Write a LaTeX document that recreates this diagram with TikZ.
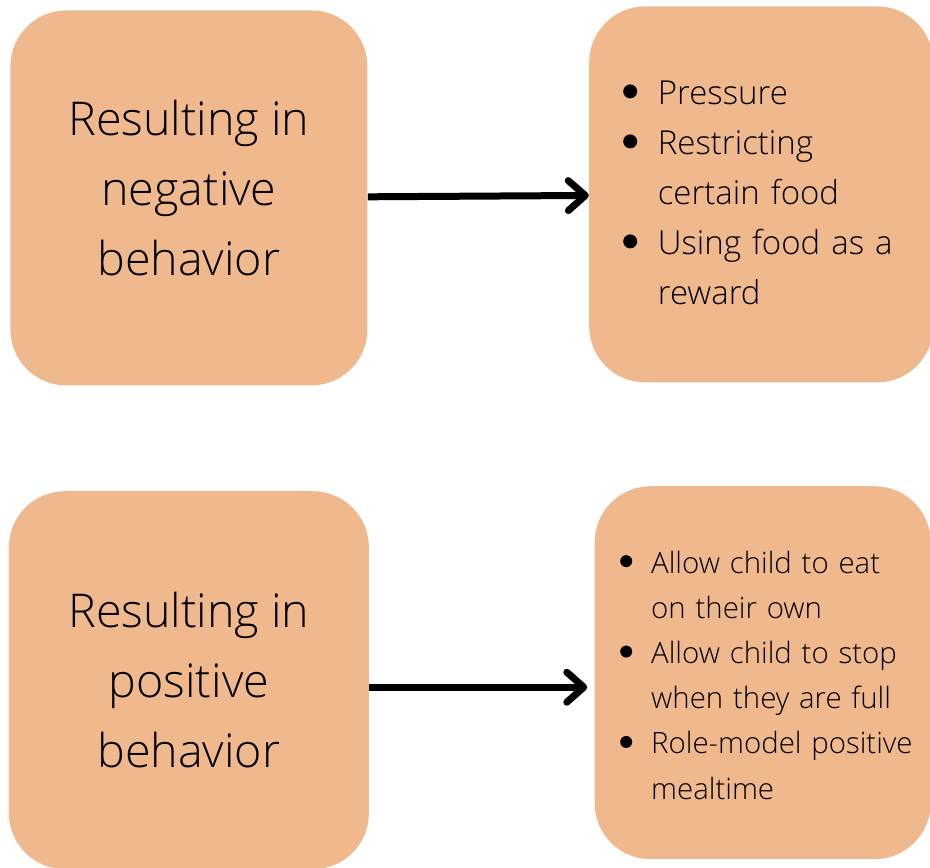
\documentclass[tikz,border=0pt]{standalone}
\usepackage{fontspec}
\IfFontExistsTF{Open Sans Light}{\setmainfont{Open Sans Light}}{\setmainfont{Open Sans}}
\usetikzlibrary{positioning, arrows.meta}
\definecolor{peach}{RGB}{240,185,141}
% filled round bullet, #1 = radius, #2 = height of its centre
\newcommand\listdot[2]{\tikz[baseline=0pt]\fill[black] (0pt,#2) circle (#1);}

\begin{document}
\begin{tikzpicture}[
    x=0.5pt, y=-0.5pt,
    box/.style={rectangle, fill=peach, rounded corners=28pt, inner sep=0pt, align=center},
    bigtxt/.style={font=\fontsize{23.3}{35}\selectfont},
    toplist/.style={font=\fontsize{16.5}{25}\selectfont, text width=138pt, align=left},
    botlist/.style={font=\fontsize{14.7}{22.6}\selectfont, text width=142.5pt, align=left},
    arrow/.style={line width=3.5pt, -{Straight Barb[length=8.5pt, width=15pt, round]}}
]
\useasboundingbox (0,0) rectangle (930,867);
% Boxes
\node[box, bigtxt, anchor=north west, minimum width=178.5pt, minimum height=187.5pt] (neg) at (10,10) {Resulting in\\negative\\behavior\rule[-10pt]{0pt}{10pt}};
\node[box, toplist, right=110.5pt of neg, yshift=1.75pt, minimum width=172pt, minimum height=188pt] (negList) {\noindent
\begin{tabular}{@{}c@{\hspace{10.3pt}}l@{}}
\listdot{3.5pt}{6.5pt} & Pressure\\
\listdot{3.5pt}{6.5pt} & Restricting\\
 & certain food\\
\listdot{3.5pt}{6.5pt} & Using food as a\\
 & reward
\end{tabular}};
\node[box, bigtxt, below=52.5pt of neg, minimum width=180pt, minimum height=189pt] (pos) {Resulting in\\positive\\behavior};
\node[box, botlist, right=112.5pt of pos, yshift=3.75pt, minimum width=168pt, minimum height=186.5pt] (posList) {\noindent
\begin{tabular}{@{}c@{\hspace{9.5pt}}l@{}}
\noalign{\vspace{4.4pt}}
\listdot{3pt}{6pt} & Allow child to eat\\
 & on their own\\
\listdot{3pt}{6pt} & Allow child to stop\\
 & when they are full\\
\listdot{3pt}{6pt} & Role-model positive\\
 & mealtime
\end{tabular}};

% Arrows
\draw[arrow] (neg) -- (negList);
\draw[arrow] ([yshift=-3.5pt]pos.east) -- ([xshift=-3.5pt, yshift=-7.25pt]posList.west);
\end{tikzpicture}
\end{document}
